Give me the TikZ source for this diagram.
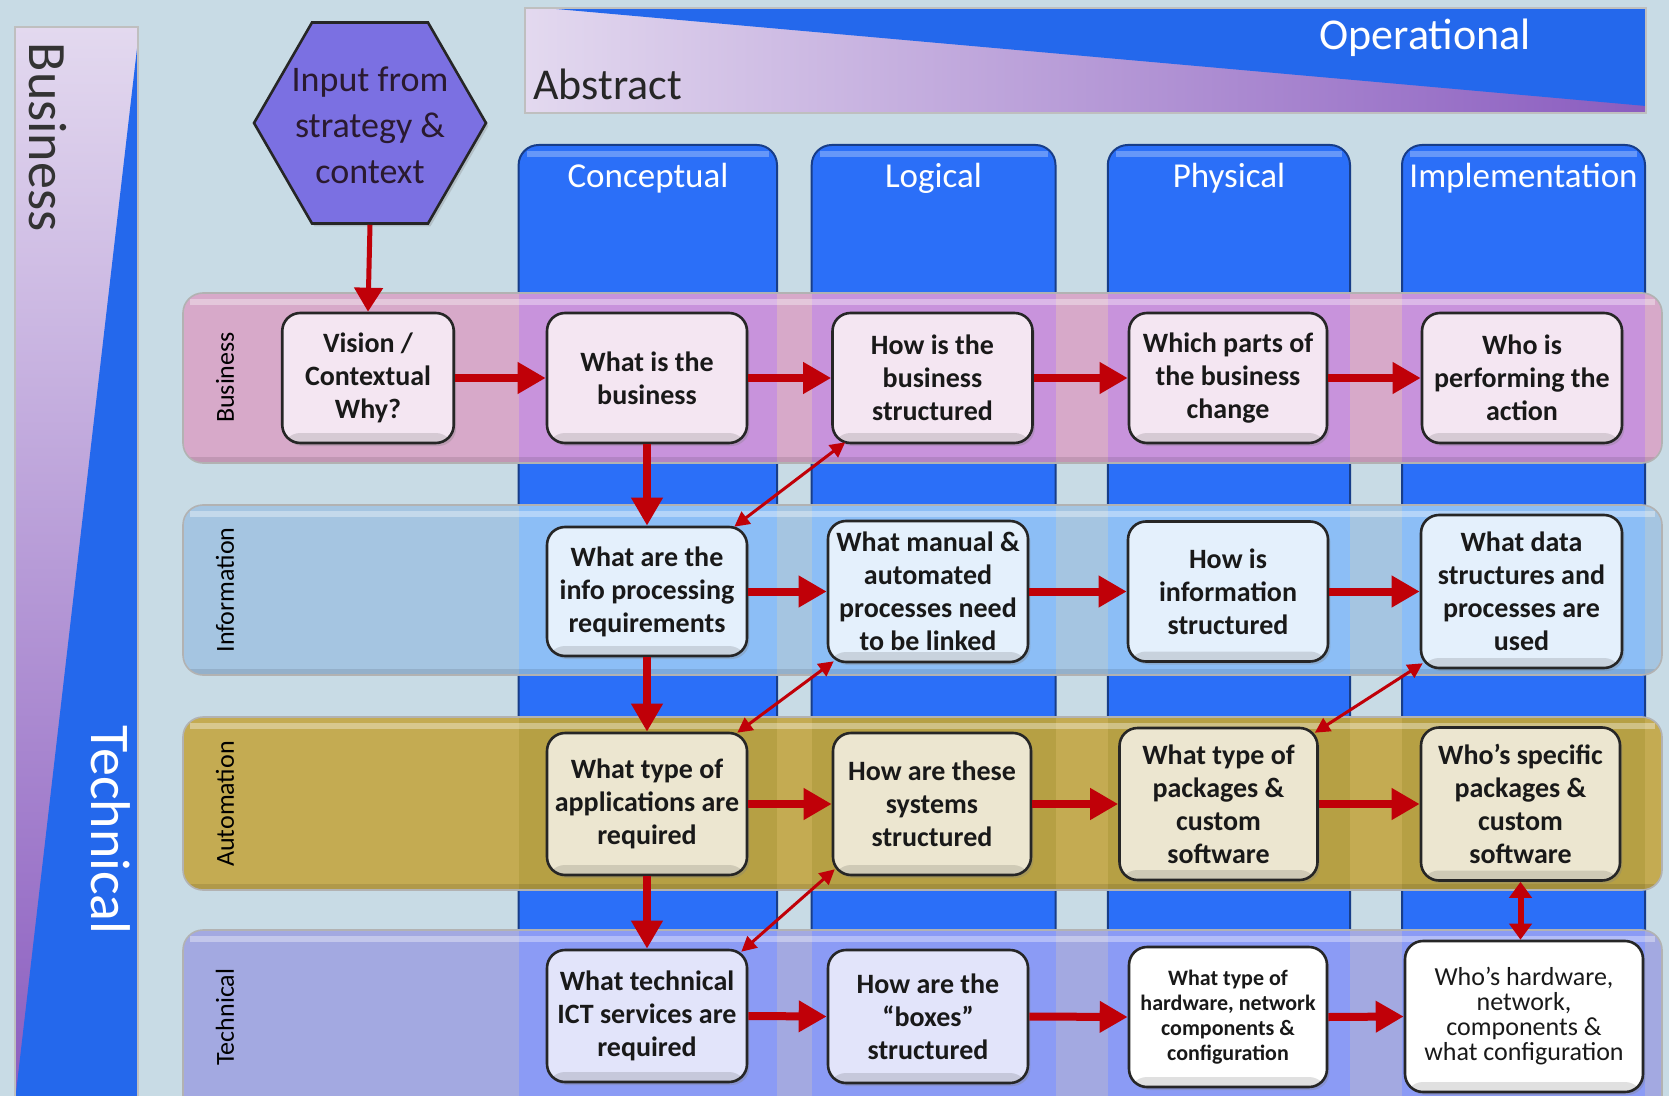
\documentclass[tikz,border=0pt]{standalone}
\usepackage{fontspec}
\setmainfont{Carlito}
\usetikzlibrary{arrows.meta,shapes.geometric,shadows,calc}

\definecolor{bgc}{HTML}{C8DBE5}
\definecolor{bannerblue}{HTML}{2468EC}
\definecolor{lavtop}{HTML}{E3D9EF}
\definecolor{lavbot}{HTML}{8A5CBF}
\definecolor{colblue}{HTML}{2B6FF8}
\definecolor{busout}{HTML}{D7A9C9}
\definecolor{busover}{HTML}{C893DC}
\definecolor{infout}{HTML}{A5C5E1}
\definecolor{infover}{HTML}{8CBEF6}
\definecolor{autout}{HTML}{C4AB52}
\definecolor{autover}{HTML}{B6A044}
\definecolor{tecout}{HTML}{A3A9E1}
\definecolor{tecover}{HTML}{8B9BF5}
\definecolor{busbox}{HTML}{F4E6F2}
\definecolor{infbox}{HTML}{E4F0FC}
\definecolor{autbox}{HTML}{ECE6D0}
\definecolor{tecbox}{HTML}{E2E4FA}
\definecolor{hexfill}{HTML}{7B70E2}
\definecolor{hextxt}{HTML}{2A1A30}
\definecolor{arrred}{HTML}{C00008}

\newcommand\mybandrow[5]{%
  \fill[#3, rounded corners=10pt] (183,#1) rectangle (1662,#2);
  \begin{scope}
    \clip[rounded corners=10pt] (183,#1) rectangle (1662,#2);
    \fill[#4] (518.6,0) rectangle (777,1200);
    \fill[#4] (811.7,0) rectangle (1055.5,1200);
    \fill[#4] (1107.8,0) rectangle (1350,1200);
    \fill[#4] (1402,0) rectangle (1645,1200);
    \fill[white, opacity=0.35] (190,{#1+6}) rectangle (1655,{#1+12});
    \fill[black, opacity=0.10] (183,{#2-6}) rectangle (1662,#2);
  \end{scope}
  \draw[#5, line width=0.8pt, rounded corners=10pt] (183,#1) rectangle (1662,#2);
}
\newcommand\mycolumn[2]{%
  \fill[colblue, rounded corners=10pt] (#1,1200) -- (#1,145) -- (#2,145) -- (#2,1200) -- cycle;
  \draw[colblue!55!black, line width=1pt, rounded corners=10pt] (#1,1200) -- (#1,145) -- (#2,145) -- (#2,1200);
  \fill[white, opacity=0.28] ({#1+8},151) rectangle ({#2-8},157);
}

\begin{document}
\begin{tikzpicture}[x=0.5pt,y=-0.5pt,
  mybox/.style={draw=black!85, line width=1.3pt, rounded corners=9pt, align=center,
    font=\bfseries\fontsize{14}{16.5}\selectfont, inner sep=0pt, text=black!90,
    drop shadow={shadow xshift=1.2pt,shadow yshift=-1.5pt,opacity=0.3},
    path picture={\fill[black,opacity=0.12] ([yshift=5pt]path picture bounding box.south west) rectangle (path picture bounding box.south east);}},
  colhead/.style={text=white, font=\fontsize{17.5}{20}\selectfont, inner sep=0pt},
  rowlab/.style={text=black, font=\fontsize{13}{15}\selectfont, rotate=90, inner sep=0pt},
  harr/.style={draw=arrred, line width=4pt, -{Triangle[length=14pt,width=15pt]}, fill=arrred},
  hexarr/.style={draw=arrred, line width=2.5pt, -{Triangle[length=12pt,width=14pt]}, fill=arrred},
  darr/.style={draw=arrred, line width=1.5pt, {Triangle[length=7.5pt,width=7.5pt]}-{Triangle[length=7.5pt,width=7.5pt]}, fill=arrred},
  vdarr/.style={draw=arrred, line width=3pt, {Triangle[length=8pt,width=11pt]}-{Triangle[length=8pt,width=11pt]}, fill=arrred}
]
\useasboundingbox (0,0) rectangle (1669,1096);
\clip (0,0) rectangle (1669,1096);
\fill[bgc] (0,0) rectangle (1669,1096);

% left banner
\shade[top color=lavtop, bottom color=lavbot] (15,27) rectangle (138,1110);
\fill[bannerblue] (138,40) -- (138,1110) -- (14,1110) -- cycle;
\draw[black!25, line width=0.8pt] (15,1110) -- (15,27) -- (138,27) -- (138,1110);
\node[rotate=-90, text=black!80, font=\fontsize{27}{30}\selectfont, inner sep=0pt] (lbBusiness) at (48,137) {Business};
\node[rotate=-90, text=white, font=\fontsize{28}{30}\selectfont, inner sep=0pt] (lbTechnical) at (111,830) {Technical};

% top banner
\shade[left color=lavtop, right color=lavbot] (525,8) rectangle (1646,113);
\fill[bannerblue] (545,8) -- (1646,8) -- (1646,106) -- cycle;
\draw[black!25, line width=0.8pt] (525,8) rectangle (1646,113);
\node[anchor=base west, text=black!85, font=\fontsize{22}{26}\selectfont, inner sep=0pt] (lbAbstract) at (533,100) {Abstract};
\node[anchor=base, text=white, font=\fontsize{22}{26}\selectfont, inner sep=0pt] (lbOperational) at (1425,50) {Operational};

% columns
\mycolumn{518.6}{777}
\mycolumn{811.7}{1055.5}
\mycolumn{1107.8}{1350}
\mycolumn{1402}{1645}
\node[colhead] (hConceptual) at (648,178) {Conceptual};
\node[colhead] (hLogical) at (933.5,178) {Logical};
\node[colhead] (hPhysical) at (1229,178) {Physical};
\node[colhead] (hImplementation) at (1523.5,178) {Implementation};

% bands
\mybandrow{293}{463}{busout}{busover}{black!30}
\mybandrow{505}{675}{infout}{infover}{black!30}
\mybandrow{717}{890}{autout}{autover}{black!30}
\mybandrow{930}{1160}{tecout}{tecover}{black!30}

\node[rowlab] (rBusiness) at (225,377.5) {Business};
\node[rowlab] (rInformation) at (225,590) {Information};
\node[rowlab] (rAutomation) at (225,804) {Automation};
\node[rowlab] (rTechnical) at (225,1017) {Technical};

% hexagon
\node[regular polygon, regular polygon sides=6, minimum size=116pt, inner sep=0pt,
  fill=hexfill, draw=black!85, line width=1.3pt,
  drop shadow={shadow xshift=1.2pt,shadow yshift=-1.5pt,opacity=0.3}] (hex) at (370,123) {};
\node[align=center, text=hextxt, font=\fontsize{18}{23}\selectfont, inner sep=0pt] (hextext) at (370,125) {Input from\\strategy \&\\context};

% business row
\node[mybox, fill=busbox, minimum width=85.75pt, minimum height=65pt] (B1) at (368,378) {Vision /\\Contextual\\Why?};
\node[mybox, fill=busbox, minimum width=100pt, minimum height=65pt] (B2) at (647,378) {What is the\\business};
\node[mybox, fill=busbox, minimum width=100pt, minimum height=65pt] (B3) at (932.5,378) {How is the\\business\\structured};
\node[mybox, fill=busbox, minimum width=99pt, minimum height=65pt] (B4) at (1228,378) {Which parts of\\the business\\change};
\node[mybox, fill=busbox, minimum width=100pt, minimum height=65pt] (B5) at (1522,378) {Who is\\performing the\\action};

% information row
\node[mybox, fill=infbox, minimum width=100pt, minimum height=64.5pt] (I1) at (647,591.5) {What are the\\info processing\\requirements};
\node[mybox, fill=infbox, minimum width=100pt, minimum height=70.5pt] (I2) at (928,591.5) {What manual \&\\automated\\processes need\\to be linked};
\node[mybox, fill=infbox, minimum width=100pt, minimum height=70pt] (I3) at (1228,591.5) {How is\\information\\structured};
\node[mybox, fill=infbox, minimum width=100.5pt, minimum height=76.5pt] (I4) at (1521.5,591.5) {What data\\structures and\\processes are\\used};

% automation row
\node[mybox, fill=autbox, minimum width=100pt, minimum height=71pt] (A1) at (647,804) {What type of\\applications are\\required};
\node[mybox, fill=autbox, minimum width=99pt, minimum height=71pt] (A2) at (932,804) {How are these\\systems\\structured};
\node[mybox, fill=autbox, minimum width=99pt, minimum height=76pt] (A3) at (1218.5,804) {What type of\\packages \&\\custom\\software};
\node[mybox, fill=autbox, minimum width=99.5pt, minimum height=76.5pt] (A4) at (1520.5,804) {Who’s specific\\packages \&\\custom\\software};

% technical row
\node[mybox, fill=tecbox, minimum width=100pt, minimum height=66pt] (T1) at (647,1016) {What technical\\ICT services are\\required};
\node[mybox, fill=tecbox, minimum width=100pt, minimum height=66.5pt] (T2) at (928,1016.5) {How are the\\“boxes”\\structured};
\node[mybox, fill=white, minimum width=99pt, minimum height=70pt, font=\bfseries\fontsize{11}{12.5}\selectfont] (T3) at (1228,1017) {What type of\\hardware, network\\components \&\\configuration};
\node[mybox, fill=white, minimum width=119pt, minimum height=75.5pt, font=\fontsize{13}{12.5}\selectfont] (T4) at (1524,1016.5) {Who’s hardware,\\network,\\components \&\\what configuration};

% arrows
\draw[hexarr] (hex.south) -- (B1.north);
\draw[harr] (B1.east) -- (B2.west);
\draw[harr] (B2.east) -- (B3.west);
\draw[harr] (B3.east) -- (B4.west);
\draw[harr] (B4.east) -- (B5.west);
\draw[harr] (I1.east) -- (I2.west);
\draw[harr] (I2.east) -- (I3.west);
\draw[harr] (I3.east) -- (I4.west);
\draw[harr] (A1.east) -- (A2.west);
\draw[harr] (A2.east) -- (A3.west);
\draw[harr] (A3.east) -- (A4.west);
\draw[harr] (T1.east) -- (T2.west);
\draw[harr] (T2.east) -- (T3.west);
\draw[harr] (T3.east) -- (T4.west);
\draw[harr] (B2.south) -- (I1.north);
\draw[harr] (I1.south) -- (A1.north);
\draw[harr] (A1.south) -- (T1.north);

\coordinate (d1a) at ($(I1.north east)+(-14,1)$);
\coordinate (d1b) at ($(B3.south west)+(14,-2)$);
\coordinate (d2a) at ($(A1.north east)+(-11,1)$);
\coordinate (d2b) at ($(I2.south west)+(7,-2)$);
\coordinate (d3a) at ($(T1.north east)+(-7,3)$);
\coordinate (d3b) at ($(A2.south west)+(3,-7)$);
\coordinate (d4a) at ($(A3.north east)+(-4,6)$);
\coordinate (d4b) at ($(I4.south west)+(3,-6)$);
\draw[darr] (d1a) -- (d1b);
\draw[darr] (d2a) -- (d2b);
\draw[darr] (d3a) -- (d3b);
\draw[darr] (d4a) -- (d4b);
\draw[vdarr] (A4.south) -- (A4.south |- T4.north);
\end{tikzpicture}
\end{document}
